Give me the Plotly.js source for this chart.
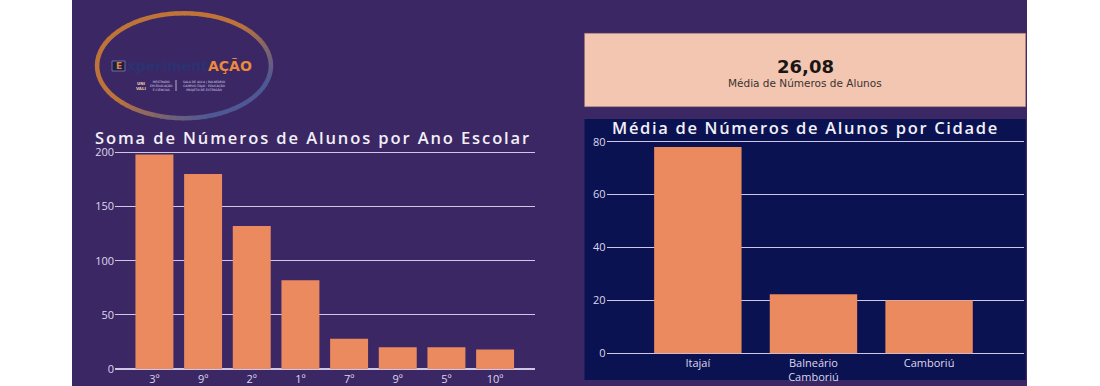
<!DOCTYPE html>
<html>
<head>
<meta charset="utf-8">
<script src="https://cdn.plot.ly/plotly-3.0.1.min.js"></script>
<style>
html,body{margin:0;padding:0;background:#ffffff;}
#chart{width:1100px;height:386px;}
</style>
</head>
<body>
<div id="chart"></div>
<script>
// ---- data ----
const anos = ['3º','9º','2º','1º','7º','9º','5º','10º'];
const somaAlunos = [198,180,132,82,28,20,20,18];
const cidades = ['Itajaí','Balneário<br>Camboriú','Camboriú'];
const mediaAlunos = [78,22.3,20];
const kpiValor = '26,08';
const kpiRotulo = 'Média de Números de Alunos';
const tituloEsq = 'Soma de Números de Alunos por Ano Escolar';
const tituloDir = 'Média de Números de Alunos por Cidade';
const yTicksEsq = [0,50,100,150,200];
const yTicksDir = [0,20,40,60,80];

// ---- styles ----
const W = 1100, H = 386;
const px = x => x / W;
const py = y => 1 - y / H;
const PURPLE = '#3c2765';
const NAVY = '#0b1252';
const BAR = '#eb8a5f';
const CARD = '#f3c6b1';
const GRID = '#cfc7e6';
const TICK = '#dcd8ea';

const traces = [
  {type:'bar', x: anos.map((_,i)=>i), y: somaAlunos, xaxis:'x', yaxis:'y',
   marker:{color:BAR}, width:0.78, hoverinfo:'skip', showlegend:false},
  {type:'bar', x: cidades.map((_,i)=>i), y: mediaAlunos, xaxis:'x2', yaxis:'y2',
   marker:{color:BAR}, width:0.756, hoverinfo:'skip', showlegend:false}
];

const tickFont = {family:'"Open Sans", sans-serif', size:11, color:TICK};
const titleFont = {family:'"Open Sans", sans-serif', size:16.5, weight:600, color:'#f2f0f7'};

const shapes = [
  {type:'rect', xref:'paper', yref:'paper', x0:px(72), x1:px(1027), y0:0, y1:1,
   fillcolor:PURPLE, line:{width:0}, layer:'below'},
  {type:'rect', xref:'paper', yref:'paper', x0:px(584.5), x1:px(1025.7), y0:py(106.7), y1:py(33.3),
   fillcolor:CARD, line:{width:1, color:'rgba(150,110,110,0.45)'}, layer:'below'},
  {type:'rect', xref:'paper', yref:'paper', x0:px(584.5), x1:px(1025.7), y0:py(380), y1:py(119),
   fillcolor:NAVY, line:{width:0}, layer:'below'}
];

// logo ring (ellipse built from short coloured segments)
(function(){
  const cx = 184, cy = 65.7, rx = 87, ry = 52.5, n = 72;
  const c1 = [190,116,56], c2 = [78,88,148];
  for (let i = 0; i < n; i++) {
    const a0 = i / n * 2 * Math.PI, a1 = (i + 1.15) / n * 2 * Math.PI;
    const am = (a0 + a1) / 2;
    const t = (Math.cos(am) + Math.sin(am)) / Math.SQRT2;
    let s = Math.min(1, Math.max(0, (t + 0.1) / 1.0));
    const col = c1.map((v,k)=>Math.round(v + (c2[k]-v)*s));
    const x0 = cx + rx*Math.cos(a0), y0 = cy + ry*Math.sin(a0);
    const x1 = cx + rx*Math.cos(a1), y1 = cy + ry*Math.sin(a1);
    shapes.push({type:'line', xref:'paper', yref:'paper', x0:px(x0), y0:py(y0), x1:px(x1), y1:py(y1),
      line:{color:'rgb('+col.join(',')+')', width:4.5}, layer:'below'});
  }
  shapes.push({type:'rect', xref:'paper', yref:'paper', x0:px(112), x1:px(125), y0:py(71), y1:py(61),
    fillcolor:'#1d1f4a', line:{width:1, color:'#6a6f9a'}, layer:'below'});
  shapes.push({type:'line', xref:'paper', yref:'paper', x0:px(176), x1:px(176), y0:py(80), y1:py(91),
    line:{width:1, color:'#b9b3cf'}, layer:'above'});
})();

const annotations = [
  {xref:'paper', yref:'paper', x:px(313), y:py(137.5), text:tituloEsq, showarrow:false,
   xanchor:'center', yanchor:'middle', font:titleFont},
  {xref:'paper', yref:'paper', x:px(805), y:py(127), text:tituloDir, showarrow:false,
   xanchor:'center', yanchor:'middle', font:titleFont},
  {xref:'paper', yref:'paper', x:px(805), y:py(66.5), text:'<b>'+kpiValor+'</b>', showarrow:false,
   xanchor:'center', yanchor:'middle', font:{family:'"DejaVu Sans", sans-serif', size:18, color:'#1b1616'}},
  {xref:'paper', yref:'paper', x:px(805), y:py(83), text:kpiRotulo, showarrow:false,
   xanchor:'center', yanchor:'middle', font:{family:'"DejaVu Sans", sans-serif', size:10.5, color:'#3b3232'}},
  // logo texts
  {xref:'paper', yref:'paper', x:px(118.5), y:py(66), text:'<b>E</b>', showarrow:false,
   xanchor:'center', yanchor:'middle', font:{family:'"DejaVu Sans", sans-serif', size:9, color:'#e3873c'}},
  {xref:'paper', yref:'paper', x:px(125), y:py(66), showarrow:false, xanchor:'left', yanchor:'middle',
   text:'<b><span style="color:#2a3272">xperiment</span><span style="color:#e98a3c">AÇÃO</span></b>',
   font:{family:'"DejaVu Sans", sans-serif', size:14}},
  {xref:'paper', yref:'paper', x:px(134), y:py(85.5), showarrow:false, xanchor:'left', yanchor:'middle',
   text:'<b>UNI</b><br><b>VALI</b>', font:{family:'"DejaVu Sans", sans-serif', size:4, color:'#e2c9b0'}},
  {xref:'paper', yref:'paper', x:px(148), y:py(85.5), showarrow:false, xanchor:'left', yanchor:'middle',
   text:'MESTRADO<br>EM EDUCAÇÃO<br>E CIÊNCIAS', font:{family:'"DejaVu Sans", sans-serif', size:3, color:'#d8d2e8'}},
  {xref:'paper', yref:'paper', x:px(181), y:py(85.5), showarrow:false, xanchor:'left', yanchor:'middle',
   text:'SALA DE AULA | BALNEÁRIO<br>CAMPUS ITAJAÍ · EDUCAÇÃO<br>PROJETO DE EXTENSÃO', font:{family:'"DejaVu Sans", sans-serif', size:3, color:'#d8d2e8'}}
];

const layout = {
  width: W, height: H,
  margin:{l:0, r:0, t:0, b:0, pad:0},
  paper_bgcolor:'#ffffff', plot_bgcolor:'rgba(0,0,0,0)',
  showlegend:false,
  font:{family:'"Open Sans", sans-serif'},
  xaxis:{domain:[px(115), px(535)], range:[-0.81, 7.82], tickvals:anos.map((_,i)=>i), ticktext:anos,
    showgrid:false, zeroline:false, showline:false, ticks:'', tickfont:tickFont, fixedrange:true, anchor:'y'},
  yaxis:{domain:[py(370.6), py(150.7)], range:[-1.5,201.5], tickvals:yTicksEsq, showgrid:true,
    gridcolor:GRID, gridwidth:1.2, zeroline:false, showline:false, ticks:'', tickfont:tickFont, fixedrange:true, anchor:'x'},
  xaxis2:{domain:[px(606.5), px(1023.9)], range:[-0.79, 2.82], tickvals:cidades.map((_,i)=>i), ticktext:cidades,
    showgrid:false, zeroline:false, showline:false, ticks:'', tickfont:tickFont, fixedrange:true, anchor:'y2'},
  yaxis2:{domain:[py(354.9), py(140.1)], range:[-0.6,80.6], tickvals:yTicksDir, showgrid:true,
    gridcolor:GRID, gridwidth:1.2, zeroline:false, showline:false, ticks:'', tickfont:tickFont, fixedrange:true, anchor:'x2'},
  shapes: shapes,
  annotations: annotations
};

// target horizontal extents of the two spaced-out titles
const tituloAlvo = {};
tituloAlvo[tituloEsq] = [95, 531];
tituloAlvo[tituloDir] = [612, 999];

Plotly.newPlot('chart', traces, layout, {displayModeBar:false, staticPlot:true}).then(function(){
  const host = document.getElementById('chart').getBoundingClientRect();
  document.querySelectorAll('.annotation-text').forEach(function(el){
    const t = el.textContent;
    const alvo = tituloAlvo[t];
    if (!alvo) return;
    const w0 = el.getBoundingClientRect().width;
    const ls = ((alvo[1] - alvo[0]) - w0) / t.length;
    el.style.letterSpacing = ls.toFixed(2) + 'px';
    const r = el.getBoundingClientRect();
    const dx = alvo[0] - (r.left - host.left);
    const prev = el.getAttribute('transform') || '';
    el.setAttribute('transform', prev + ' translate(' + dx.toFixed(2) + ',0)');
  });
});
</script>
</body>
</html>
